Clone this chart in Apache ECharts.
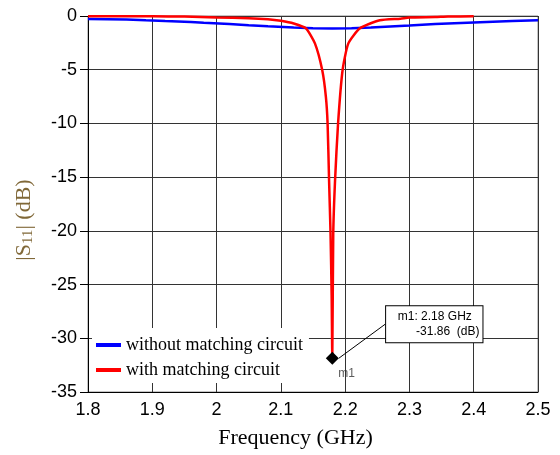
<!DOCTYPE html>
<html>
<head>
<meta charset="utf-8">
<script src="https://cdn.jsdelivr.net/npm/echarts@6/dist/echarts.min.js"></script>
<style>
  html, body { margin: 0; padding: 0; background: #fff; }
  #chart { width: 560px; height: 455px; }
</style>
</head>
<body>
<div id="chart"></div>
<script>
// S11 without matching circuit (GHz, dB)
const freqBlue = [1.80, 1.86, 1.89, 1.92, 1.96, 1.98, 2.02, 2.05, 2.08, 2.12, 2.15, 2.18, 2.21, 2.24, 2.27, 2.30, 2.34, 2.38, 2.42, 2.46, 2.50]
const dbBlue   = [-0.28, -0.32, -0.40, -0.47, -0.55, -0.63, -0.75, -0.86, -0.96, -1.08, -1.13, -1.17, -1.14, -1.06, -0.97, -0.88, -0.75, -0.65, -0.56, -0.47, -0.40]

// S11 with matching circuit
const freqRed = [1.80, 1.90, 1.95, 2.00, 2.05, 2.08, 2.10, 2.12, 2.139, 2.153, 2.1644, 2.170, 2.1727, 2.175, 2.1773, 2.179, 2.180, 2.1815, 2.1843, 2.189, 2.196, 2.205, 2.223, 2.254, 2.286, 2.30, 2.34, 2.36, 2.40]
const dbRed   = [-0.02, -0.03, -0.05, -0.15, -0.20, -0.30, -0.45, -0.70, -1.15, -2.55, -5.05, -7.5, -10.0, -15.3, -20.3, -26.0, -31.86, -20.3, -15.3, -10.0, -5.05, -2.55, -1.15, -0.40, -0.25, -0.15, -0.10, -0.05, -0.03]

// marker m1
const markerName = 'm1'
const markerFreq = 2.18
const markerDb = -31.86

const legendNames = ['without matching circuit', 'with matching circuit']
const colors = ['#0000ff', '#ff0000']

const chart = echarts.init(document.getElementById('chart'))

let option = {
  animation: false,
  grid: {
    left: 88,
    right: 22,
    top: 16,
    height: 376,
    show: true,
    borderColor: '#8a8a8a',
    borderWidth: 1,
    backgroundColor: '#fff'
  },
  legend: {
    data: legendNames.map(n => ({ name: n, icon: 'rect' })),
    orient: 'vertical',
    left: 92,
    top: 328,
    padding: [8, 6, 4, 4],
    backgroundColor: '#fff',
    itemWidth: 25,
    itemHeight: 4,
    itemGap: 7,
    textStyle: {
      fontFamily: 'Liberation Serif',
      fontSize: 18,
      lineHeight: 18,
      color: '#000'
    }
  },
  xAxis: {
    type: 'value',
    min: 1.8,
    max: 2.5,
    interval: 0.1,
    name: 'Frequency (GHz)',
    nameLocation: 'middle',
    nameGap: 35,
    nameTextStyle: {
      fontFamily: 'Liberation Serif',
      fontSize: 22,
      color: '#000',
      padding: [0, 35, 0, 0]
    },
    axisLine: { show: true, onZero: false, lineStyle: { color: '#000', width: 1 } },
    axisTick: { show: false },
    axisLabel: {
      margin: 9,
      fontFamily: 'Liberation Sans',
      fontSize: 18,
      color: '#000',
      formatter: v => String(Math.round(v * 10) / 10)
    },
    splitLine: { show: true, lineStyle: { color: '#333', width: 1 } }
  },
  yAxis: {
    type: 'value',
    min: -35,
    max: 0,
    interval: 5,
    name: '{a|\u007CS}{s|11}{a|\u007C (dB)}',
    nameLocation: 'middle',
    nameGap: 52,
    nameTextStyle: {
      padding: [0, 32, 0, 0],
      rich: {
        a: { fontFamily: 'Liberation Serif', fontSize: 22, color: '#806838' },
        s: { fontFamily: 'Liberation Serif', fontSize: 15, color: '#806838', padding: [8, 0, 0, 0] }
      }
    },
    axisLine: { show: true, lineStyle: { color: '#000', width: 1 } },
    axisTick: { show: true, inside: false, length: 8, lineStyle: { color: '#000' } },
    axisLabel: {
      margin: 11,
      fontFamily: 'Liberation Sans',
      fontSize: 18,
      color: '#000'
    },
    splitLine: { show: true, lineStyle: { color: '#333', width: 1 } }
  },
  series: [
    {
      name: legendNames[0],
      type: 'line',
      symbol: 'none',
      lineStyle: { color: colors[0], width: 2.5 },
      itemStyle: { color: colors[0] },
      data: freqBlue.map((f, i) => [f, dbBlue[i]]),
      z: 3
    },
    {
      name: legendNames[1],
      type: 'line',
      symbol: 'none',
      smooth: 0.2,
      lineStyle: { color: colors[1], width: 2.5 },
      itemStyle: { color: colors[1] },
      data: freqRed.map((f, i) => [f, dbRed[i]]),
      z: 4
    },
    {
      // marker diamond + readout box
      name: 'marker',
      type: 'scatter',
      symbol: 'diamond',
      symbolSize: 13,
      itemStyle: { color: '#000', opacity: 1 },
      z: 6,
      label: {
        show: true,
        position: 'inside',
        formatter: '{a|' + markerName + ': ' + markerFreq + ' GHz}\n{b|' + markerDb.toFixed(2) + '  (dB)}',
        backgroundColor: '#fff',
        borderColor: '#000',
        borderWidth: 1,
        padding: [3, 3, 3, 4],
        rich: {
          a: { fontFamily: 'Liberation Sans', fontSize: 12, color: '#000', lineHeight: 15 },
          b: { fontFamily: 'Liberation Sans', fontSize: 12, color: '#000', lineHeight: 15, padding: [0, 0, 0, 26] }
        }
      },
      labelLayout: { dx: 102, dy: -34 },
      labelLine: { show: true, lineStyle: { color: '#000', width: 1 } },
      data: [[markerFreq, markerDb]]
    },
    {
      // marker name under the diamond
      name: 'markerName',
      type: 'scatter',
      symbol: 'circle',
      symbolSize: 2,
      itemStyle: { color: 'rgba(0,0,0,0)' },
      z: 7,
      label: {
        show: true,
        position: [7, 10],
        formatter: markerName,
        fontFamily: 'Liberation Sans',
        fontSize: 12,
        color: '#333'
      },
      labelLayout: { hideOverlap: false },
      data: [[markerFreq, markerDb]]
    }
  ]
}

chart.setOption(option)
</script>
</body>
</html>
